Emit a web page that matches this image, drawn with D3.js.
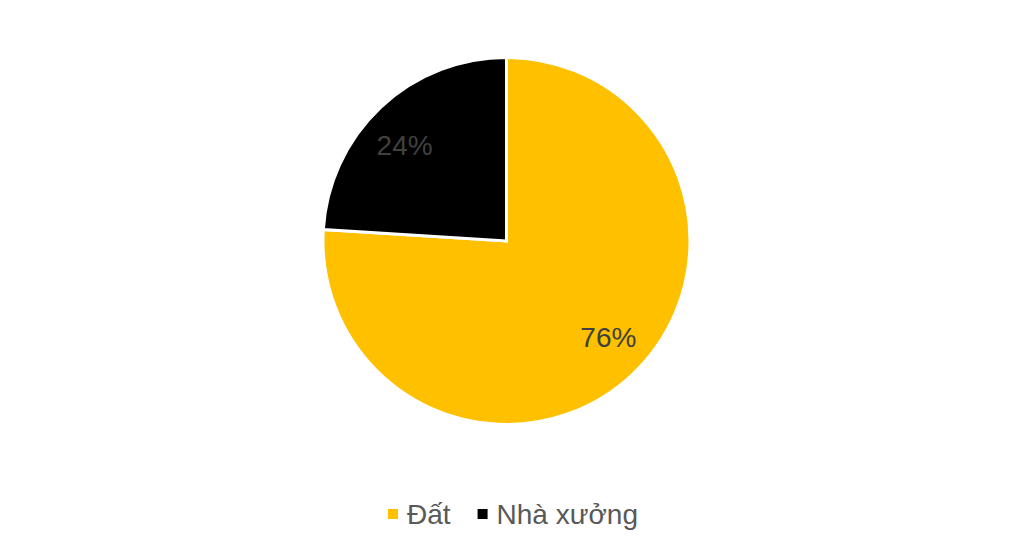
<!DOCTYPE html>
<html>
<head>
<meta charset="utf-8">
<script src="https://cdn.jsdelivr.net/npm/d3@7"></script>
<style>
  body { margin: 0; background: #fff; }
  svg { display: block; font-family: "Liberation Sans", Arial, sans-serif; }
</style>
</head>
<body>
<svg id="chart" width="1013" height="547"></svg>
<script>
"use strict";

// chart data
const categories = ["Đất", "Nhà xưởng"];
const shares = [76, 24];
const colors = ["#FFC000", "#000000"];

const svg = d3.select("#chart");
const cx = 506.5, cy = 241, radius = 183.5;

const pie = d3.pie().sort(null).value(d => d.value);
const slices = pie(categories.map((c, i) => ({ name: c, value: shares[i] })));

const arc = d3.arc().innerRadius(0).outerRadius(radius);
// labels sit a little counter-clockwise of the slice middle, like the original
const labelArc = d3.arc().innerRadius(140).outerRadius(140);
const labelShift = 3.5 * Math.PI / 180;

const g = svg.append("g").attr("transform", `translate(${cx},${cy})`);

g.selectAll("path")
  .data(slices)
  .join("path")
  .attr("d", arc)
  .attr("fill", (d, i) => colors[i])
  .attr("stroke", "#fff")
  .attr("stroke-width", 3)
  .attr("stroke-linejoin", "miter");

g.selectAll("text.lbl")
  .data(slices)
  .join("text")
  .attr("class", "lbl")
  .attr("transform", d => {
    const [x, y] = labelArc.centroid({ startAngle: d.startAngle - labelShift, endAngle: d.endAngle - labelShift });
    return `translate(${x},${y})`;
  })
  .attr("text-anchor", "middle")
  .attr("dy", "0.35em")
  .attr("font-size", 28)
  .attr("fill", "#404040")
  .text(d => d3.format(".0f")(d.data.value) + "%");

// legend under the pie
const legend = svg.append("g").attr("transform", "translate(0,514)");
let x = 388;
categories.forEach((c, i) => {
  const item = legend.append("g").attr("transform", `translate(${x},0)`);
  item.append("rect")
    .attr("x", 0).attr("y", -5)
    .attr("width", 10).attr("height", 10)
    .attr("fill", colors[i]);
  const t = item.append("text")
    .attr("x", 19)
    .attr("dy", "0.35em")
    .attr("font-size", 28)
    .attr("fill", "#595959")
    .text(c);
  x += 19 + t.node().getComputedTextLength() + 27;
});
</script>
</body>
</html>
